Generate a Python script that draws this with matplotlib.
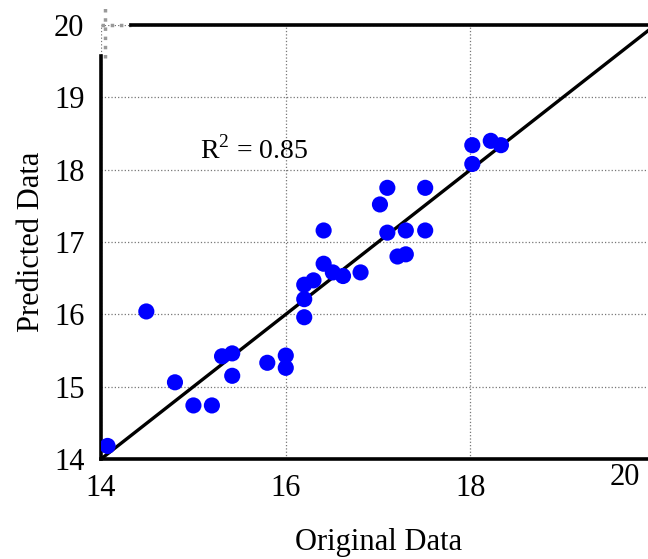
import numpy as np
import matplotlib
matplotlib.use("Agg")
import matplotlib.pyplot as plt

plt.rcParams['font.family'] = ['Liberation Serif', 'DejaVu Serif']
plt.rcParams['mathtext.fontset'] = 'custom'
plt.rcParams['mathtext.rm'] = 'Liberation Serif'

# valores originales y predichos
original = [14.07, 14.49, 14.80, 15.00, 15.20, 15.31, 15.42, 15.42, 15.80, 16.00,
            16.00, 16.20, 16.20, 16.20, 16.30, 16.41, 16.41, 16.51, 16.62, 16.81,
            17.02, 17.10, 17.10, 17.21, 17.30, 17.30, 17.51, 17.51, 18.02, 18.02,
            18.22, 18.33]
predicho = [14.18, 16.04, 15.06, 14.74, 14.74, 15.42, 15.46, 15.15, 15.33, 15.43,
            15.26, 16.41, 16.21, 15.96, 16.47, 16.70, 17.16, 16.58, 16.53, 16.58,
            17.52, 17.75, 17.13, 16.80, 16.83, 17.16, 17.75, 17.16, 18.34, 18.08,
            18.40, 18.34]
r2 = 0.85

xticks = [14, 16, 18]
yticks = [14, 15, 16, 17, 18, 19, 20]

fig = plt.figure(figsize=(6.48, 5.59), dpi=100)
ax = fig.add_axes([0.156, 0.179, 0.855, 0.776])

ax.set_xlim(14, 20)
ax.set_ylim(14, 20)

# cuadricula punteada
ax.set_xticks(xticks + [20])
ax.set_yticks(yticks)
ax.grid(True, color='#777777', linestyle=':', linewidth=0.9)
ax.set_axisbelow(True)

# linea y = x
ax.plot([14, 20], [14, 20], color='black', linewidth=2.4, zorder=2)
ax.scatter(original, predicho, s=135, color='#0000ff', edgecolors='none', zorder=3)

ax.text(15.07, 18.27, r'R$^2$ = %.2f' % r2, fontsize=20, va='center', ha='left')

# ejes
for lado in ['left', 'bottom', 'top']:
    ax.spines[lado].set_linewidth(2.6)
ax.spines['right'].set_visible(False)
ax.spines['left'].set_bounds(14, 19.58)
ax.spines['top'].set_bounds(14.32, 20)
ax.plot([14.04, 14.04], [19.55, 20.25], color='#999999', linestyle=':',
        linewidth=2.5, clip_on=False)
ax.plot([14.0, 14.32], [20, 20], color='#999999', linestyle=':',
        linewidth=2.5, clip_on=False)

ax.set_xticklabels([str(t) for t in xticks] + [''])
ax.tick_params(axis='both', length=0, labelsize=22)
ax.tick_params(axis='x', pad=11)
ax.tick_params(axis='y', pad=12)
ax.text(0.946, -0.043, '20', transform=ax.transAxes, fontsize=22,
        ha='center', va='center')

ax.set_xlabel('Original Data', fontsize=22, labelpad=18)
ax.set_ylabel('Predicted Data', fontsize=22, labelpad=6)

fig.savefig('out.png', dpi=100)
